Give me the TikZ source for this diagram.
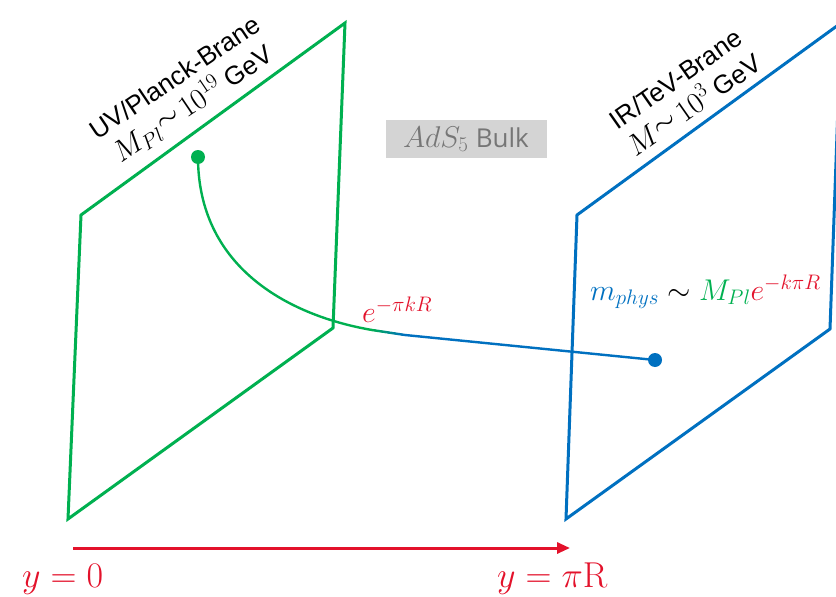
\RequirePackage{fix-cm}
\documentclass[tikz,border=0pt]{standalone}
\usepackage[no-math]{fontspec}
\setmainfont{Liberation Sans}
\newfontfamily\bulkfont{Open Sans}
\usetikzlibrary{arrows.meta,calc}
\definecolor{bgreen}{HTML}{00B050}
\definecolor{bblue}{HTML}{0070C0}
\definecolor{bred}{HTML}{E3122B}
\definecolor{bgray}{HTML}{D4D4D4}
\definecolor{btext}{HTML}{767676}
\newcommand\lblmath[1]{{\fontsize{30}{30}\selectfont$#1$}}
\tikzset{
  brane/.style={line width=3pt, line join=miter},
  lbl/.style={align=center, font=\fontsize{26}{32}\selectfont, inner sep=0pt},
  dotnode/.style={circle, inner sep=0pt, minimum size=14pt},
  wire/.style={line width=2.4pt},
  mathlbl/.style={inner sep=0pt, font=\fontsize{30}{32}\selectfont},
}
\begin{document}
\begin{tikzpicture}[x=1pt,y=-1pt]
\useasboundingbox (0,0) rectangle (836,597);
\clip (0,0) rectangle (836,597);
% UV brane
\coordinate (g1) at (81,215);
\coordinate (g2) at (345,23);
\coordinate (g3) at (333,328);
\coordinate (g4) at (68,519);
\draw[brane, bgreen] (g1) -- (g2) -- (g3) -- (g4) -- cycle;
% IR brane
\coordinate (b1) at (577,215);
\coordinate (b2) at (841,23);
\coordinate (b3) at (830,329);
\coordinate (b4) at (566,519);
\draw[brane, bblue] (b1) -- (b2) -- (b3) -- (b4) -- cycle;
% labels
\node[lbl, rotate=34] (uvlbl) at (185,92) {UV/Planck-Brane\\\lblmath{M_{Pl}}\raisebox{3pt}{\lblmath{\sim}}\,\lblmath{10^{19}} GeV};
\node[lbl, rotate=35] (irlbl) at (685,92) {IR/TeV-Brane\\\lblmath{M}\raisebox{3pt}{\lblmath{\sim}}\,\lblmath{10^{3}} GeV};
% bulk
\node[fill=bgray, text=btext, minimum width=161pt, minimum height=38pt, inner sep=0pt,
      font=\fontsize{26}{30}\selectfont] (bulk) at (466,139) {\lblmath{AdS_5} {\bulkfont Bulk}};
% dots
\node[dotnode, fill=bgreen] (gdot) at (198,157) {};
\node[dotnode, fill=bblue] (bdot) at (655,360) {};
% connector
\coordinate (c1) at (372,330);
\coordinate (c2) at (405,335);
\draw[wire, bgreen] (gdot.center) .. controls (198,265) and (285,315) .. (c1);
\foreach \i in {0,...,9}{
  \pgfmathsetmacro{\pa}{\i/10}
  \pgfmathsetmacro{\pb}{(\i+1)/10}
  \pgfmathsetmacro{\mix}{100-\i*10-5}
  \draw[wire, line cap=round, color=bgreen!\mix!bblue] ($(c1)!\pa!(c2)$) -- ($(c1)!\pb!(c2)$);
}
\draw[wire, bblue] (c2) -- (bdot.center);
% formulas
\node[mathlbl, text=bred, anchor=base west] (warp) at (362,322) {$e^{-\pi kR}$};
\node[mathlbl, anchor=base west] (mphys) at (590,300)
  {$\color{bblue}m_{phys}\color{black}\sim\color{bgreen}M_{Pl}\color{bred}e^{-k\pi R}$};
% axis
\coordinate (a0) at (73,548);
\coordinate (a1) at (570,548);
\draw[line width=3pt, bred, -{Triangle[length=13pt,width=11pt]}] (a0) -- (a1);
\node[inner sep=0pt, text=bred, font=\fontsize{36}{40}\selectfont, anchor=base west] (y0) at (22,587) {$y=0$};
\node[inner sep=0pt, text=bred, font=\fontsize{36}{40}\selectfont, anchor=base west] (ypi) at (497,587) {$y=\pi\mathrm{R}$};
\end{tikzpicture}
\end{document}
